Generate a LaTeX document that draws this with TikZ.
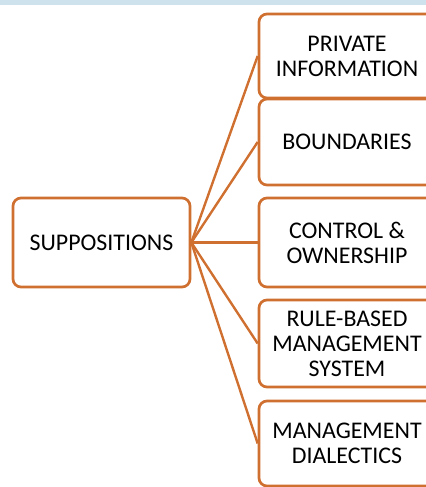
\documentclass[tikz,border=0pt]{standalone}
\usepackage{fontspec}
\setmainfont{Carlito}
\definecolor{accent}{RGB}{208,112,48}
\definecolor{bandblue}{RGB}{206,226,238}

\begin{document}
\begin{tikzpicture}[
    topic/.style={rectangle, rounded corners=0.2cm, draw=accent, line width=1.9pt, fill=white, align=center, font=\fontsize{17}{17.8}\selectfont, text=black},
    link/.style={draw=accent, line width=1.7pt}
]
    \clip (0,0) rectangle (10.65,-12.175);
    \fill[bandblue] (0,0) rectangle (10.65,-0.125);

    % Zentrum
    \node[topic, minimum width=4.425cm, minimum height=2.225cm] (supp) at (2.5375,-6.0625) {SUPPOSITIONS};

    % Zweige
    \node[topic, minimum width=4.4cm, minimum height=2.1cm] (private) at (8.675,-1.4) {PRIVATE\\INFORMATION};
    \node[topic, minimum width=4.4cm, minimum height=2.15cm] (bound) at (8.675,-3.55) {BOUNDARIES};
    \node[topic, minimum width=4.4cm, minimum height=2.225cm] (control) at (8.675,-6.0625) {CONTROL \&\\OWNERSHIP};
    \node[topic, minimum width=4.4cm, minimum height=2.175cm] (rules) at (8.675,-8.5875) {RULE-BASED\\MANAGEMENT\\SYSTEM};
    \node[topic, minimum width=4.4cm, minimum height=2.125cm] (dialect) at (8.675,-11.0875) {MANAGEMENT\\DIALECTICS};

    % Verbindungen
    \draw[link] (supp.east) -- (private.west);
    \draw[link] (supp.east) -- (bound.west);
    \draw[link] (supp.east) -- (control.west);
    \draw[link] (supp.east) -- (rules.west);
    \draw[link] (supp.east) -- (dialect.west);
\end{tikzpicture}
\end{document}
